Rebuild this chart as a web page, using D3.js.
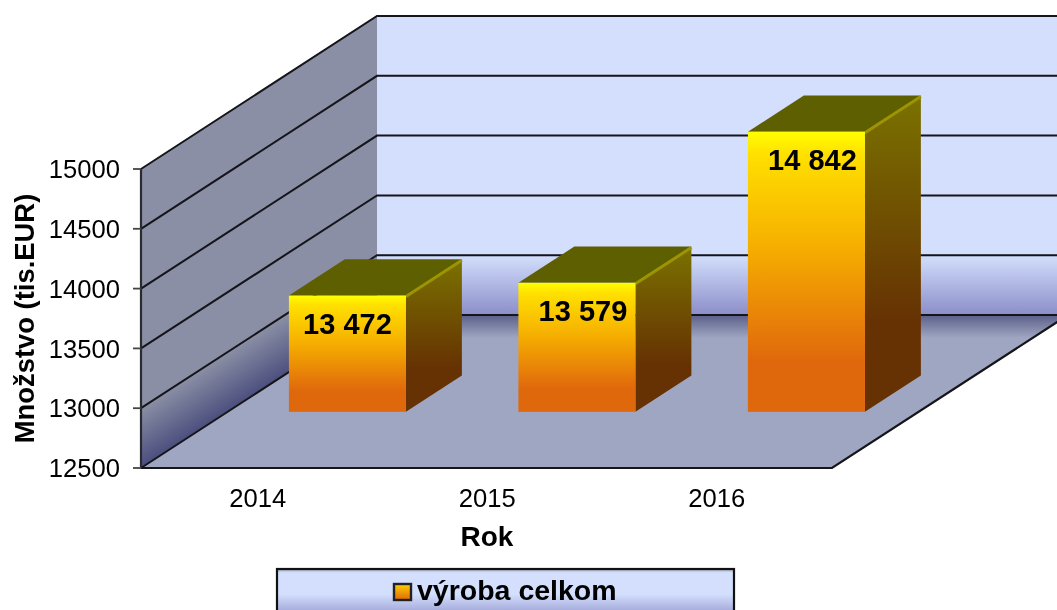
<!DOCTYPE html>
<html>
<head>
<meta charset="utf-8">
<script src="https://cdn.jsdelivr.net/npm/d3@7"></script>
<style>
  html, body { margin: 0; padding: 0; background: #fff; overflow: hidden; }
  svg { display: block; filter: blur(0.55px); }
  text { font-family: "Liberation Sans", Arial, sans-serif; fill: #000; }
</style>
</head>
<body>
<div id="chart"></div>
<script>
const WIDTH = 1057, HEIGHT = 610;

const years = ["2014", "2015", "2016"];
const values = [13472, 13579, 14842];
const yTicks = [12500, 13000, 13500, 14000, 14500, 15000];
const seriesName = "výroba celkom";
const yTitle = "Množstvo (tis.EUR)";
const xTitle = "Rok";

// projection: value up, category across, depth goes back and to the right
const left = 141, right = 832;
const y = d3.scaleLinear().domain([12500, 15000]).range([468, 169]);
const x = d3.scaleBand().domain(years).range([143, 831.5]).paddingInner(0.49).paddingOuter(0.245);
const depthX = d3.scaleLinear().domain([0, 1]).range([0, 236]);
const depthY = d3.scaleLinear().domain([0, 1]).range([0, -153]);
const BAR_Z0 = 0.38, BAR_Z1 = 0.617, BAR_DROP = 2;
// the value labels are not quite centred on their bars in the original
const LABEL_DX = [0, 6, 6];

const px = (xv, z) => xv + depthX(z);
const py = (v, z) => y(v) + depthY(z);
const by = (v, z) => py(v, z) + BAR_DROP;
const pts = list => list.map(p => p.join(",")).join(" ");
const fmt = d3.formatLocale({ decimal: ",", thousands: " ", grouping: [3], currency: ["", ""] }).format(",d");

const svg = d3.select("#chart").append("svg")
  .attr("width", WIDTH).attr("height", HEIGHT);
const defs = svg.append("defs");

function gradient(id, stops, coords) {
  const g = defs.append("linearGradient").attr("id", id);
  if (coords) {
    g.attr("gradientUnits", "userSpaceOnUse")
      .attr("x1", coords[0]).attr("y1", coords[1]).attr("x2", coords[2]).attr("y2", coords[3]);
  } else {
    g.attr("x1", 0).attr("y1", 0).attr("x2", 0).attr("y2", 1);
  }
  stops.forEach(s => g.append("stop").attr("offset", s[0]).attr("stop-color", s[1]));
}

const yMin = yTicks[0], yMax = yTicks[yTicks.length - 1];

gradient("wallBack", [[0, "#d3dffd"], [0.8, "#d3dffd"], [1, "#8b8ec8"]], [0, py(yMax, 1), 0, py(yMin, 1)]);
gradient("wallLeft", [[0, "#8a8fa5"], [1, "#4c4f7e"]], [141, 408, 168, 450]);
gradient("floor", [[0, "#5a5e8c"], [0.06, "#777c9f"], [0.15, "#9fa6c2"], [1, "#9fa6c2"]], [0, py(yMin, 1), 0, y(yMin)]);
gradient("barFront", [[0, "#ffff00"], [0.08, "#ffe000"], [0.4, "#f6b000"], [0.82, "#e0680c"], [1, "#e0680c"]]);
gradient("barSide", [[0, "#7a7200"], [0.72, "#663103"], [1, "#663103"]]);
gradient("legendBg", [[0, "#9aa0a8"], [0.08, "#d3dffd"], [0.55, "#d3dffd"], [1, "#9b9fd3"]]);
gradient("swatch", [[0, "#ffd000"], [1, "#e0680c"]]);

// back wall, runs off the right edge
svg.append("rect")
  .attr("x", px(left, 1)).attr("y", py(yMax, 1))
  .attr("width", WIDTH - px(left, 1)).attr("height", y(yMin) - y(yMax))
  .attr("fill", "url(#wallBack)");

// left wall
svg.append("polygon")
  .attr("points", pts([[left, y(yMin)], [left, y(yMax)], [px(left, 1), py(yMax, 1)], [px(left, 1), py(yMin, 1)]]))
  .attr("fill", "url(#wallLeft)");

// floor
svg.append("polygon")
  .attr("points", pts([[left, y(yMin)], [right, y(yMin)], [px(right, 1), py(yMin, 1)], [px(left, 1), py(yMin, 1)]]))
  .attr("fill", "url(#floor)");

// gridlines over both walls
svg.append("g").selectAll("polyline").data(yTicks).join("polyline")
  .attr("points", d => pts([[left, y(d)], [px(left, 1), py(d, 1)], [WIDTH, py(d, 1)]]))
  .attr("fill", "none").attr("stroke", "#15151a").attr("stroke-width", 2);

// floor right edge and front edge
svg.append("polyline")
  .attr("points", pts([[left, y(yMin)], [right, y(yMin)], [px(right, 1), py(yMin, 1)]]))
  .attr("fill", "none").attr("stroke", "#15151a").attr("stroke-width", 2.2);

// value axis
svg.append("line")
  .attr("x1", left).attr("x2", left).attr("y1", y(yMax)).attr("y2", y(yMin))
  .attr("stroke", "#2a2a30").attr("stroke-width", 2.2);
svg.append("g").selectAll("line").data(yTicks).join("line")
  .attr("x1", left - 8).attr("x2", left).attr("y1", d => y(d)).attr("y2", d => y(d))
  .attr("stroke", "#444").attr("stroke-width", 1.8);
svg.append("g").selectAll("text").data(yTicks).join("text")
  .attr("x", 120).attr("y", d => y(d)).attr("dy", "0.36em")
  .attr("text-anchor", "end").attr("font-size", 25.6).text(d => d);

// category labels
svg.append("g").selectAll("text").data(years).join("text")
  .attr("x", d => x(d) + x.bandwidth() / 2).attr("y", 507)
  .attr("text-anchor", "middle").attr("font-size", 25.6).text(d => d);

// bars
const bars = svg.append("g").selectAll("g").data(years.map((yr, i) => ({ yr, v: values[i], i }))).join("g");

bars.append("polygon").attr("fill", "#5e5f00")
  .attr("points", d => {
    const a = x(d.yr), b = a + x.bandwidth();
    return pts([[px(a, BAR_Z0), by(d.v, BAR_Z0)], [px(b, BAR_Z0), by(d.v, BAR_Z0)], [px(b, BAR_Z1), by(d.v, BAR_Z1)], [px(a, BAR_Z1), by(d.v, BAR_Z1)]]);
  });
bars.append("polygon").attr("fill", "url(#barSide)")
  .attr("points", d => {
    const b = x(d.yr) + x.bandwidth();
    return pts([[px(b, BAR_Z0), by(d.v, BAR_Z0)], [px(b, BAR_Z1), by(d.v, BAR_Z1)], [px(b, BAR_Z1), by(yMin, BAR_Z1)], [px(b, BAR_Z0), by(yMin, BAR_Z0)]]);
  });
// lighter bevel on the top edge of the side face
bars.append("line")
  .attr("x1", d => px(x(d.yr) + x.bandwidth(), BAR_Z0)).attr("y1", d => by(d.v, BAR_Z0) + 1)
  .attr("x2", d => px(x(d.yr) + x.bandwidth(), BAR_Z1)).attr("y2", d => by(d.v, BAR_Z1) + 1)
  .attr("stroke", "#9c9400").attr("stroke-width", 3);
bars.append("rect").attr("fill", "url(#barFront)")
  .attr("x", d => px(x(d.yr), BAR_Z0)).attr("y", d => by(d.v, BAR_Z0))
  .attr("width", x.bandwidth()).attr("height", d => y(yMin) - y(d.v));
bars.append("text")
  .attr("x", d => px(x(d.yr), BAR_Z0) + x.bandwidth() / 2 + LABEL_DX[d.i])
  .attr("y", d => by(d.v, BAR_Z0) + 38)
  .attr("text-anchor", "middle").attr("font-size", 29).attr("font-weight", "bold")
  .text(d => fmt(d.v));

// axis titles
svg.append("text")
  .attr("transform", `translate(34,${y(13750)}) rotate(-90)`)
  .attr("text-anchor", "middle").attr("font-size", 27.4).attr("font-weight", "bold").text(yTitle);
svg.append("text")
  .attr("x", 487).attr("y", 546).attr("text-anchor", "middle")
  .attr("font-size", 28).attr("font-weight", "bold").text(xTitle);

// legend
svg.append("rect")
  .attr("x", 277).attr("y", 569).attr("width", 457).attr("height", 46)
  .attr("fill", "url(#legendBg)").attr("stroke", "#111").attr("stroke-width", 2.2);
svg.append("rect")
  .attr("x", 394).attr("y", 584).attr("width", 17).attr("height", 16)
  .attr("fill", "url(#swatch)").attr("stroke", "#222").attr("stroke-width", 2.4);
svg.append("text")
  .attr("x", 417).attr("y", 600).attr("font-size", 28.5).attr("font-weight", "bold").text(seriesName);
</script>
</body>
</html>
